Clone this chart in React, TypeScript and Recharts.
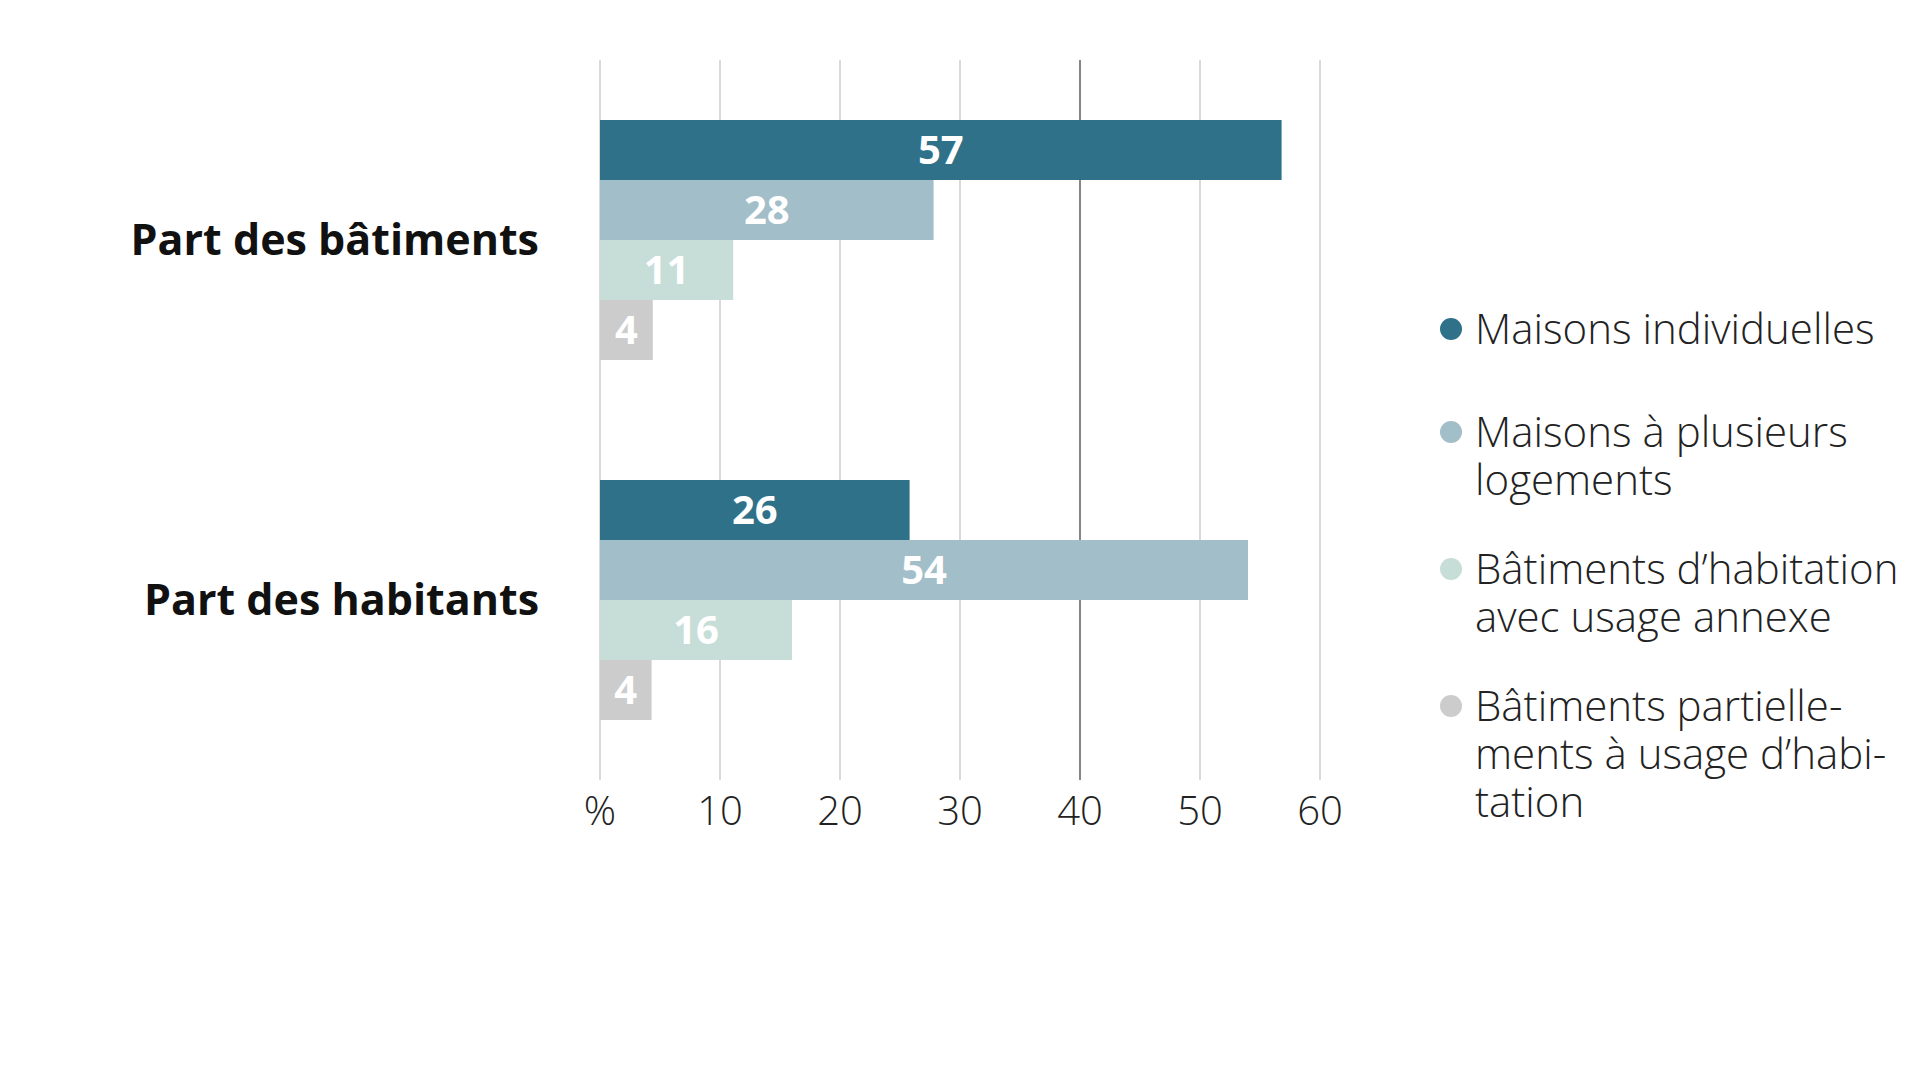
import React from "react";
import { BarChart, Bar, XAxis, YAxis, CartesianGrid, LabelList } from "recharts";

// values (labels are rounded)
const categories = ["Part des bâtiments", "Part des habitants"];
const maisonsIndividuelles = [56.8, 25.8];
const maisonsPlusieurs = [27.8, 54.0];
const habitationAnnexe = [11.1, 16.0];
const partiellementHabitation = [4.4, 4.3];
const xTicks = [0, 10, 20, 30, 40, 50, 60];

const seriesKeys = ["indiv", "plusieurs", "annexe", "partiel"];
const seriesNames = [
  "Maisons individuelles",
  "Maisons à plusieurs logements",
  "Bâtiments d’habitation avec usage annexe",
  "Bâtiments partiellements à usage d’habitation",
];
const legendLines = [
  ["Maisons individuelles"],
  ["Maisons à plusieurs", "logements"],
  ["Bâtiments d’habitation", "avec usage annexe"],
  ["Bâtiments partielle-", "ments à usage d’habi-", "tation"],
];
const COLORS = ["#2F7189", "#A2BEC9", "#C6DED7", "#CCCCCC"];

const data = categories.map((c, i) => ({
  category: c,
  indiv: maisonsIndividuelles[i],
  plusieurs: maisonsPlusieurs[i],
  annexe: habitationAnnexe[i],
  partiel: partiellementHabitation[i],
}));

const FONT = "'Open Sans', 'Noto Sans', sans-serif";
const legendGaps = [55, 41, 41, 0];

const gridLine = (p: any) => (
  <line
    key={`grid-${p.index}`}
    x1={p.x1}
    y1={p.y1}
    x2={p.x2}
    y2={p.y2}
    stroke={xTicks[p.index] === 40 ? "#444444" : "#C8C8C8"}
    strokeWidth={1.3}
  />
);

const App: React.FC = () => {
  return (
    <div style={{ position: "absolute", left: 0, top: 0, width: 1920, height: 1080, background: "#fff", fontFamily: FONT }}>
      <BarChart
        width={1920}
        height={1080}
        data={data}
        layout="vertical"
        margin={{ top: 60, right: 600, bottom: 240, left: 0 }}
        barCategoryGap={60}
        barGap={0}
      >
        <CartesianGrid horizontal={false} vertical={gridLine} />
        <XAxis
          type="number"
          domain={[0, 60]}
          ticks={xTicks}
          axisLine={false}
          tickLine={false}
          tickSize={0}
          tickMargin={17}
          height={60}
          interval={0}
          tickFormatter={(v: number) => (v === 0 ? "%" : String(v))}
          tick={{ fontSize: 40, fontWeight: 300, fill: "#222" }}
        />
        <YAxis
          type="category"
          dataKey="category"
          width={600}
          axisLine={false}
          tickLine={false}
          tickSize={0}
          tickMargin={61}
          tick={{ fontSize: 43, fontWeight: 700, fill: "#111" }}
        />
        {seriesKeys.map((k, i) => (
          <Bar key={k} dataKey={k} name={seriesNames[i]} fill={COLORS[i]} isAnimationActive={false}>
            <LabelList
              dataKey={k}
              position="center"
              formatter={(v: any) => Math.round(Number(v))}
              style={{ fill: "#fff", fontSize: 40, fontWeight: 700 }}
            />
          </Bar>
        ))}
      </BarChart>
      <div style={{ position: "absolute", left: 1440, top: 304, color: "#222", fontSize: 42, fontWeight: 300, lineHeight: "48px" }}>
        {legendLines.map((lines, i) => (
          <div key={i} style={{ display: "flex", alignItems: "flex-start", marginBottom: legendGaps[i] }}>
            <span
              style={{
                width: 22,
                height: 22,
                borderRadius: 11,
                background: COLORS[i],
                marginTop: 14,
                marginRight: 13,
                flexShrink: 0,
              }}
            />
            <div style={{ whiteSpace: "nowrap" }}>
              {lines.map((l, j) => (
                <div key={j}>{l}</div>
              ))}
            </div>
          </div>
        ))}
      </div>
    </div>
  );
};

export default App;
